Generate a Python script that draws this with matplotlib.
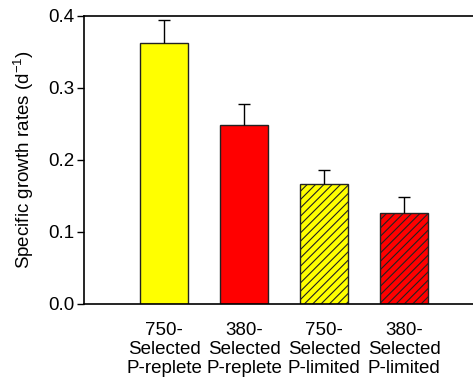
import matplotlib
matplotlib.use("Agg")
import matplotlib.pyplot as plt

categories = ["750-\nSelected\nP-replete", "380-\nSelected\nP-replete",
              "750-\nSelected\nP-limited", "380-\nSelected\nP-limited"]
growth_rates = [0.363, 0.248, 0.167, 0.127]
errors_upper = [0.032, 0.030, 0.019, 0.021]
colors = ["#ffff00", "#ff0000", "#ffff00", "#ff0000"]
hatches = ["", "", "////", "////"]
yticks = [0.0, 0.1, 0.2, 0.3, 0.4]

plt.rcParams['font.family'] = ['Liberation Sans', 'DejaVu Sans']
plt.rcParams['hatch.linewidth'] = 0.8

fig = plt.figure(figsize=(4.73, 3.78), dpi=100)
ax = fig.add_axes([84 / 473, (378 - 304) / 378, 400 / 473, 288 / 378])

xpos = [1, 2, 3, 4]
for x, v, e, c, h in zip(xpos, growth_rates, errors_upper, colors, hatches):
    ax.bar(x, v, width=0.6, color=c, edgecolor="#222222", linewidth=1.0,
           hatch=h, zorder=2)
    _, caps, _ = ax.errorbar(x, v, yerr=[[0], [e]], fmt="none", ecolor="black",
                             elinewidth=1.0, capsize=4.5, capthick=1.0, zorder=3)
    if len(caps) > 1:
        caps[0].remove()

ax.set_xlim(0, 5)
ax.set_ylim(0, 0.4)
ax.set_yticks(yticks)
ax.set_yticklabels([f"{t:.1f}" for t in yticks], fontsize=13.5)
ax.set_xticks(xpos)
ax.set_xticklabels(categories, fontsize=13.5, linespacing=1.17)
ax.tick_params(axis="x", length=0, pad=13)
ax.tick_params(axis="y", direction="out", length=5, width=1, pad=2)
ax.set_ylabel("Specific growth rates (d$^{\\mathregular{-1}}$)", fontsize=13.5, labelpad=9)
for s in ax.spines.values():
    s.set_linewidth(1.2)

fig.savefig("out.png", dpi=100)
